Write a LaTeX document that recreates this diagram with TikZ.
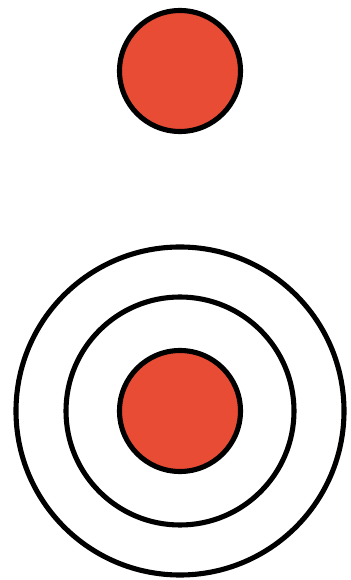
\documentclass[tikz,border=0pt]{standalone}
\definecolor{dotred}{RGB}{232,76,52}
\tikzset{
  ring/.style={circle,draw=black,line width=2.9pt,inner sep=0pt},
  dot/.style={ring,fill=dotred,minimum size=2.42cm},
}
\begin{document}
\begin{tikzpicture}
\useasboundingbox (0,0) rectangle (7,11.6);
\node[dot] (T1) at (3.6,10.18){};

\node[ring,minimum size=6.56cm] (B3) at (3.6,3.38){};
\node[ring,minimum size=4.56cm] (B2) at (3.6,3.38){};
\node[dot] (B1) at (3.6,3.38){};
\end{tikzpicture}
\end{document}
